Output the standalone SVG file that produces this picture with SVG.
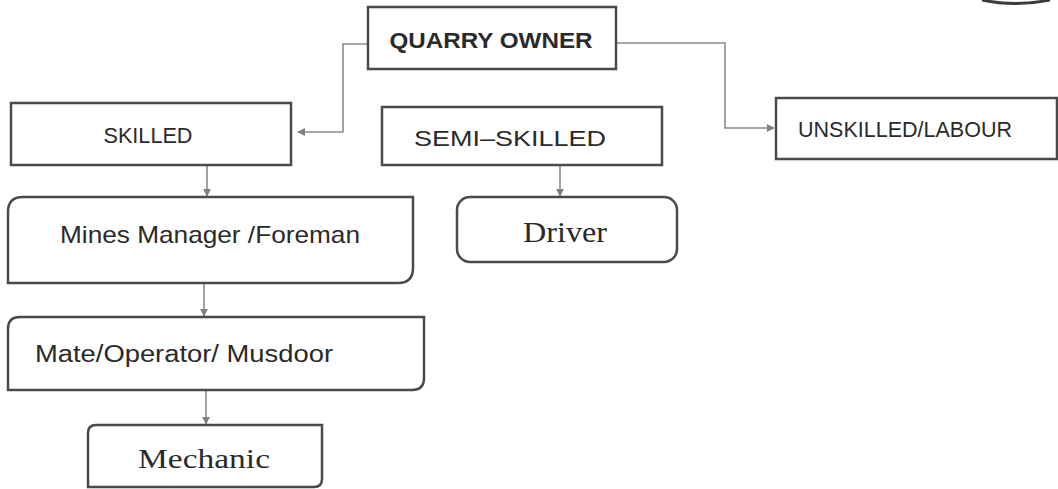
<svg xmlns="http://www.w3.org/2000/svg" width="1058" height="489" viewBox="0 0 1058 489">
<style>
.box{fill:#fff;stroke:#4a4a4a;stroke-width:2.5}
.sans{font-family:"Liberation Sans",Arial,sans-serif;fill:#2a2a2a}
.serif{font-family:"Liberation Serif","Times New Roman",serif;fill:#2a2a2a}
.conn{fill:none;stroke:#8a8a8a;stroke-width:1.6}
</style>
<defs>
<marker id="arr" viewBox="0 0 10 10" refX="9" refY="5" markerWidth="8" markerHeight="8" markerUnits="userSpaceOnUse" orient="auto">
<path d="M0,0 L10,5 L0,10 z" fill="#808080"/>
</marker>
</defs>
<rect width="1058" height="489" fill="#fff"/>
<path d="M982,0 Q1015,7 1050,0" fill="none" stroke="#3a3a3a" stroke-width="3"/>
<g id="connectors">
<path class="conn" d="M368,44 H343 V132 H298" marker-end="url(#arr)"/>
<path class="conn" d="M616,43 H725 V128 H774" marker-end="url(#arr)"/>
<path class="conn" d="M207,165 V196" marker-end="url(#arr)"/>
<path class="conn" d="M560,165 V196" marker-end="url(#arr)"/>
<path class="conn" d="M204,283 V316" marker-end="url(#arr)"/>
<path class="conn" d="M206,390 V424" marker-end="url(#arr)"/>
</g>
<g id="quarry-owner">
<rect class="box" x="368" y="7" width="248" height="62"/>
<text class="sans" x="491" y="48" font-size="22" font-weight="bold" text-anchor="middle" textLength="203" lengthAdjust="spacingAndGlyphs">QUARRY OWNER</text>
</g>
<g id="skilled">
<rect class="box" x="11" y="103" width="280" height="62" fill="#fbfbfb"/>
<text class="sans" x="148" y="143" font-size="22" text-anchor="middle" textLength="89" lengthAdjust="spacingAndGlyphs">SKILLED</text>
</g>
<g id="semi-skilled">
<rect class="box" x="382" y="107" width="280" height="58"/>
<text class="sans" x="510" y="146" font-size="22" text-anchor="middle" textLength="192" lengthAdjust="spacingAndGlyphs">SEMI–SKILLED</text>
</g>
<g id="unskilled">
<rect class="box" x="776" y="98" width="281" height="61"/>
<text class="sans" x="798" y="137" font-size="22" textLength="214" lengthAdjust="spacingAndGlyphs">UNSKILLED/LABOUR</text>
</g>
<g id="mines-manager">
<path class="box" d="M23,197 H413 V268 Q413,283 398,283 H8 V212 Q8,197 23,197 Z"/>
<text class="sans" x="210" y="243" font-size="24" text-anchor="middle" textLength="300" lengthAdjust="spacingAndGlyphs">Mines Manager /Foreman</text>
</g>
<g id="driver">
<rect class="box" x="457" y="197" width="220" height="65" rx="13"/>
<text class="serif" x="565" y="242" font-size="30" text-anchor="middle" textLength="84" lengthAdjust="spacingAndGlyphs">Driver</text>
</g>
<g id="mate">
<path class="box" d="M20,317 H424 V378 Q424,390 412,390 H8 V329 Q8,317 20,317 Z"/>
<text class="sans" x="35" y="362" font-size="23" textLength="298" lengthAdjust="spacingAndGlyphs">Mate/Operator/ Musdoor</text>
</g>
<g id="mechanic">
<path class="box" d="M96,425 H322 V479 Q322,487 314,487 H88 V433 Q88,425 96,425 Z"/>
<text class="serif" x="204" y="468" font-size="28" text-anchor="middle" textLength="132" lengthAdjust="spacingAndGlyphs">Mechanic</text>
</g>
</svg>
